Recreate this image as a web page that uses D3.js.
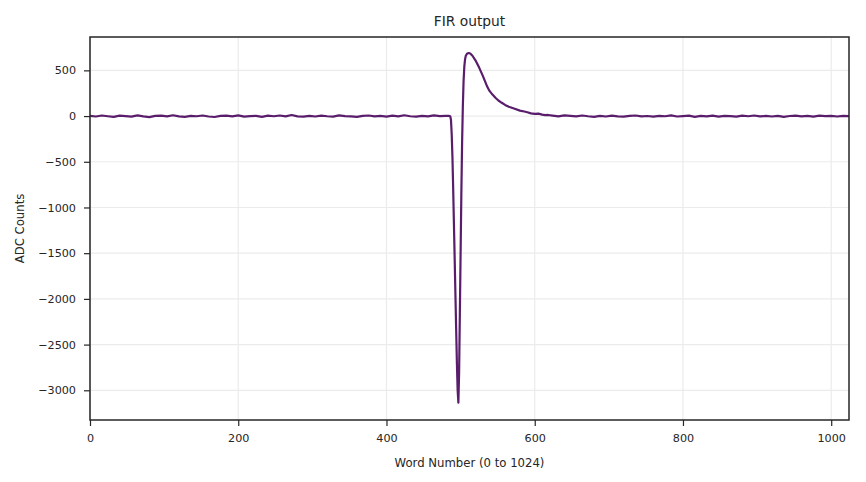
<!DOCTYPE html>
<html>
<head>
<meta charset="utf-8">
<script src="https://cdn.jsdelivr.net/npm/d3@7"></script>
<style>
  body { margin: 0; background: #fff; }
  text { font-family: "DejaVu Sans", sans-serif; fill: #262626; }
</style>
</head>
<body>
<svg id="chart" width="866" height="482"></svg>
<script>
// baseline before the pulse, one reading every 8 words from word 0
var preStart = 0;
var preCounts = [3, -5, 6, -2, -9, 4, 0, -6, 8, -3, -12, 2, 5, -4, 9, -3, -8, 3, -2, 6,
  -5, -10, 2, 4, -3, 7, -6, 0, 3, -9, 4, -2, 6, -4, 12, -3, -7, 2, -5, 4,
  -2, -6, 7, 0, -3, -9, 3, 6, -4, 2, -7, 4, -3, 9, -2, -6, 3, -4, 7, 0, 2];

// the pulse itself
var pulseWords = [484, 486, 487, 488, 489, 490, 491, 492, 493, 494, 495, 496, 497, 498, 499,
  500, 501, 502, 503, 504, 505, 506, 507, 509, 511, 513, 516, 520, 525, 530, 533, 536, 539,
  543, 547, 551, 555, 560, 565, 572, 580, 586, 590, 595, 600, 605, 610, 614, 618];
var pulseCounts = [2, -2, -40, -200, -450, -800, -1180, -1560, -1950, -2330, -2700, -3000, -3135, -2800, -2150,
  -1500, -850, -300, 100, 380, 540, 620, 660, 685, 690, 685, 660, 610, 530, 440, 380, 320, 275,
  235, 200, 170, 148, 122, 102, 82, 60, 50, 42, 30, 24, 26, 16, 10, 12];

// baseline after the pulse, every 8 words from word 624
var postStart = 624;
var postCounts = [5, -3, 8, 2, -4, 6, -2, -8, 3, -5, 4, -3, -7, 2, 6, -4, 1, -6, 3, -2,
  7, -5, 0, 4, -8, 2, -3, 5, -6, 3, -1, -7, 4, -2, 6, -4, 2, -5, 3, -9,
  1, 5, -3, 2, -6, 4, -1, 3, -5, 2, 0];

var xTicks = [0, 200, 400, 600, 800, 1000];
var yTicks = [-3000, -2500, -2000, -1500, -1000, -500, 0, 500];

var step = 8;
var points = [];
preCounts.forEach(function (v, i) { points.push([preStart + i * step, v]); });
pulseWords.forEach(function (w, i) { points.push([w, pulseCounts[i]]); });
postCounts.forEach(function (v, i) { points.push([postStart + i * step, v]); });

var width = 866, height = 482;
var margin = {top: 37, right: 17, bottom: 62, left: 90};

var svg = d3.select('#chart');

var x = d3.scaleLinear()
    .domain([0, 1024])
    .range([margin.left, width - margin.right]);

var y = d3.scaleLinear()
    .domain([-3325, 865])
    .range([height - margin.bottom, margin.top]);

// grid
svg.append('g')
    .selectAll('line.gx')
    .data(xTicks)
    .join('line')
      .attr('x1', d => x(d)).attr('x2', d => x(d))
      .attr('y1', margin.top).attr('y2', height - margin.bottom)
      .attr('stroke', '#ebebeb')
      .attr('stroke-width', 1.2);

svg.append('g')
    .selectAll('line.gy')
    .data(yTicks)
    .join('line')
      .attr('x1', margin.left).attr('x2', width - margin.right)
      .attr('y1', d => y(d)).attr('y2', d => y(d))
      .attr('stroke', '#ebebeb')
      .attr('stroke-width', 1.2);

// the trace
var line = d3.line()
    .x(d => x(d[0]))
    .y(d => y(d[1]));

svg.append('path')
    .datum(points)
    .attr('d', line)
    .attr('fill', 'none')
    .attr('stroke', '#591d6c')
    .attr('stroke-width', 2.2)
    .attr('stroke-linejoin', 'round');

// axes
var fmt = d3.format('d');
var xAxis = svg.append('g')
    .attr('transform', 'translate(0,' + (height - margin.bottom) + ')')
    .call(d3.axisBottom(x).tickValues(xTicks).tickFormat(fmt).tickSize(6).tickPadding(8));

var yAxis = svg.append('g')
    .attr('transform', 'translate(' + margin.left + ',0)')
    .call(d3.axisLeft(y).tickValues(yTicks).tickFormat(fmt).tickSize(6).tickPadding(8));

[xAxis, yAxis].forEach(function (g) {
  g.select('.domain').remove();
  g.selectAll('.tick line').attr('stroke', '#262626').attr('stroke-width', 1.2);
  g.selectAll('.tick text')
      .style('font-family', '"DejaVu Sans", sans-serif')
      .style('font-size', '11.2px')
      .attr('fill', '#262626');
});

// frame
svg.append('rect')
    .attr('x', margin.left)
    .attr('y', margin.top)
    .attr('width', width - margin.left - margin.right)
    .attr('height', height - margin.top - margin.bottom)
    .attr('fill', 'none')
    .attr('stroke', '#262626')
    .attr('stroke-width', 1.5);

// labels
svg.append('text')
    .attr('x', (margin.left + width - margin.right) / 2)
    .attr('y', 25.5)
    .attr('text-anchor', 'middle')
    .style('font-size', '13.8px')
    .text('FIR output');

svg.append('text')
    .attr('x', (margin.left + width - margin.right) / 2)
    .attr('y', 466.5)
    .attr('text-anchor', 'middle')
    .style('font-size', '11.7px')
    .text('Word Number (0 to 1024)');

svg.append('text')
    .attr('transform', 'translate(24,' + ((margin.top + height - margin.bottom) / 2) + ') rotate(-90)')
    .attr('text-anchor', 'middle')
    .style('font-size', '11.7px')
    .text('ADC Counts');
</script>
</body>
</html>
